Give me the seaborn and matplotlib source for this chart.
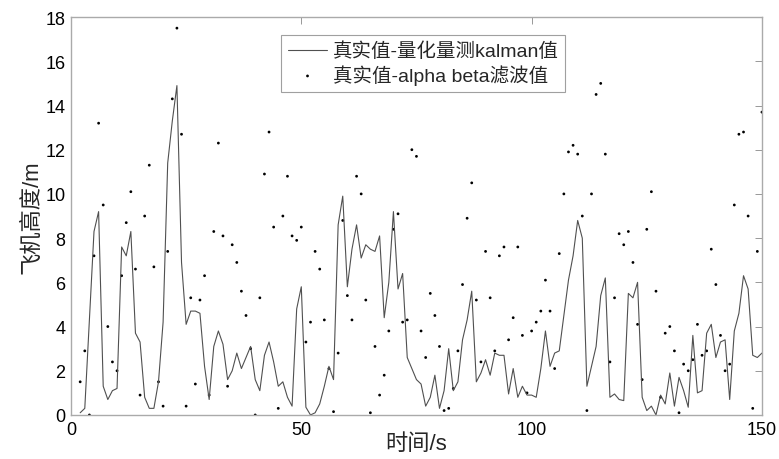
import numpy as np
import pandas as pd
import matplotlib
matplotlib.use("Agg")
import matplotlib.pyplot as plt
import seaborn as sns

t = list(range(2, 151))

kalman = [0.1, 0.3, 4.3, 8.3, 9.2, 1.3, 0.7, 1.1, 1.2, 7.6, 7.2, 8.3, 3.7, 3.3, 0.8, 0.3, 0.3,
          1.5, 4.2, 11.4, 13.3, 14.9, 6.9, 4.1, 4.7, 4.7, 4.6, 2.2, 0.7, 3.1, 3.8, 3.2, 1.6, 2.0, 2.8,
          2.1, 2.6, 3.1, 1.6, 1.1, 2.7, 3.3, 2.4, 1.3, 1.5, 0.8, 0.4, 4.8, 5.8, 0.35, 0.0, 0.1, 0.5, 1.3,
          2.2, 1.6, 8.6, 9.9, 5.8, 7.5, 8.6, 7.1, 7.7, 7.5, 7.4, 8.1, 4.4, 6.0, 9.2, 5.7, 6.4, 2.6,
          2.1, 1.6, 1.4, 0.4, 0.8, 1.8, 0.3, 1.1, 3.0, 1.1, 1.5, 3.4, 4.3, 5.6, 1.5, 1.9, 2.5, 1.8, 2.8,
          2.7, 2.7, 0.95, 2.1, 0.8, 1.3, 0.9, 0.9, 0.8, 2.1, 3.8, 2.2, 2.8, 2.9, 4.5, 6.1, 7.2, 8.8,
          8.0, 1.3, 2.2, 3.1, 5.4, 6.2, 0.8, 0.95, 0.7, 0.65, 5.5, 5.3, 6.0, 0.8, 0.2, 0.4, 0.0, 0.9, 0.5,
          1.9, 0.4, 1.7, 1.1, 0.35, 3.6, 1.0, 1.1, 3.7, 4.1, 2.6, 3.3, 3.4, 0.7, 3.8, 4.6, 6.3, 5.7, 2.7, 2.6, 2.8]

alphabeta = [1.5, 2.9, 0.0, 7.2, 13.2, 9.5, 4.0, 2.4, 2.0, 6.3, 8.7, 10.1, 6.6, 0.9, 9.0, 11.3, 6.7,
             1.5, 0.4, 7.4, 14.3, 17.5, 12.7, 0.4, 5.3, 1.4, 5.2, 6.3, 0.9, 8.3, 12.3, 8.1, 1.3, 7.7, 6.9,
             5.6, 4.5, 3.0, 0.0, 5.3, 10.9, 12.8, 8.5, 0.3, 9.0, 10.8, 8.1, 7.9, 8.5, 3.3, 4.2, 7.4, 6.6, 4.3,
             2.1, 0.15, 2.8, 8.8, 5.4, 4.3, 10.8, 10.0, 5.2, 0.1, 3.1, 0.9, 1.8, 3.8, 8.4, 9.1, 4.2, 4.3,
             12.0, 11.7, 3.8, 2.6, 5.5, 4.5, 3.1, 0.2, 0.3, 1.2, 2.9, 5.9, 8.9, 10.5, 5.2, 2.4, 7.4, 5.3, 2.9,
             7.2, 7.6, 3.4, 4.4, 7.6, 3.6, 1.0, 3.8, 4.2, 4.7, 6.1, 4.7, 2.1, 7.3, 10.0, 11.9, 12.2, 11.8,
             9.0, 0.2, 10.0, 14.5, 15.0, 11.8, 2.4, 5.3, 8.2, 7.7, 8.3, 6.9, 4.1, 1.6, 8.4, 10.1, 5.6, 0.8, 3.7,
             4.0, 2.9, 0.1, 2.3, 2.0, 2.5, 4.1, 2.7, 2.9, 7.5, 5.9, 3.6, 2.0, 2.3, 9.5, 12.7, 12.8, 9.0, 0.3, 7.4, 13.7]

label_line = "真实值-量化量测kalman值"
label_dots = "真实值-alpha beta滤波值"
xlabel = "时间/s"
ylabel = "飞机高度/m"
xticks = [0, 50, 100, 150]
yticks = list(range(0, 19, 2))

sns.set_style("white")
plt.rcParams['font.family'] = ['Liberation Sans', 'Noto Sans CJK SC', 'DejaVu Sans']
plt.rcParams['axes.unicode_minus'] = False

df = pd.DataFrame({"t": t, "kalman": kalman, "ab": alphabeta})

fig = plt.figure(figsize=(7.79, 4.60), dpi=100)
ax = fig.add_axes([0.0911, 0.0957, 0.887, 0.865])

sns.lineplot(data=df, x="t", y="kalman", ax=ax, color="#505050", linewidth=0.8,
             label=label_line)
sns.scatterplot(data=df, x="t", y="ab", ax=ax, color="black", s=4, marker="o",
                edgecolor="none", label=label_dots)

ax.set_xlim(0, 150)
ax.set_ylim(0, 18)
ax.set_xticks(xticks)
ax.set_yticks(yticks)
ax.tick_params(direction="in", length=5, width=0.6, color="#888888",
               top=True, right=True, labelsize=13, labelcolor="black", pad=4)
for sp in ax.spines.values():
    sp.set_color("#aaaaaa")
    sp.set_linewidth(1.0)

ax.set_xlabel(xlabel, fontsize=16, labelpad=-3)
ax.set_ylabel(ylabel, fontsize=16, labelpad=2)

leg = ax.legend(loc="upper center", bbox_to_anchor=(0.51, 0.955), fontsize=14,
                frameon=True, fancybox=False, borderpad=0.35, labelspacing=0.2,
                handlelength=2.0, handletextpad=0.3, markerscale=1.0,
                borderaxespad=0.0)
leg.get_frame().set_edgecolor("#888888")
leg.get_frame().set_linewidth(0.8)

fig.savefig("out.png", dpi=100)
